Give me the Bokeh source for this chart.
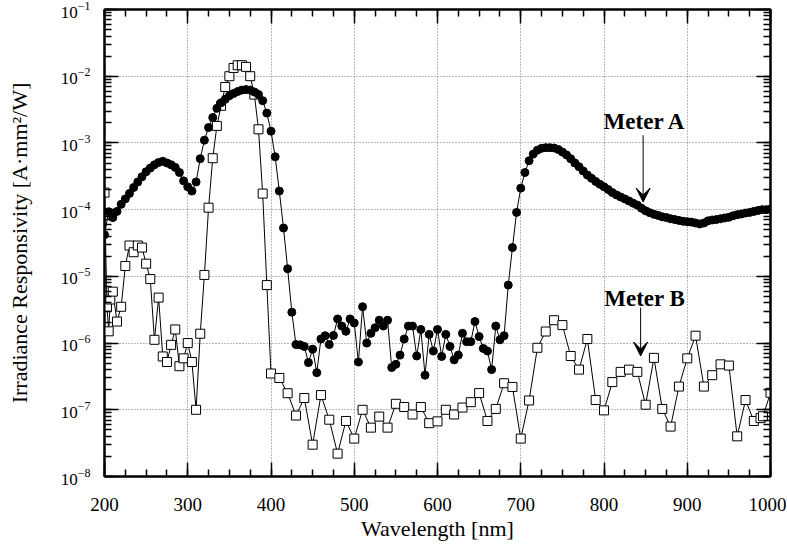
from bokeh.plotting import figure
from bokeh.models import (LogAxis, LinearAxis, Label, Arrow, VeeHead, Range1d,
                          FixedTicker, LogTicker, SingleIntervalTicker, CustomJSTickFormatter)
from bokeh.embed import file_html
from bokeh.resources import INLINE

# ---- data ----
wl_a = list(range(200, 1001, 5))
resp_a = [
    4.2e-5, 9.3e-5, 7.6e-5, 9.4e-5, 1.2e-4, 1.45e-4, 1.75e-4, 2.15e-4, 2.6e-4, 3.1e-4,
    3.7e-4, 4.2e-4, 4.7e-4, 5.1e-4, 5.3e-4, 5.0e-4, 4.7e-4, 4.3e-4, 3.6e-4, 2.7e-4,
    2.2e-4, 1.9e-4, 2.6e-4, 5.8e-4, 1.1e-3, 1.7e-3, 2.4e-3, 3.3e-3, 4.0e-3, 4.5e-3,
    5.1e-3, 5.5e-3, 5.9e-3, 6.2e-3, 6.3e-3, 6.2e-3, 5.8e-3, 5.3e-3, 4.3e-3, 2.8e-3,
    1.5e-3, 6.2e-4, 1.9e-4, 5.3e-5, 1.3e-5, 2.9e-6, 9.5e-7, 9.4e-7, 8.9e-7, 5.1e-7,
    8.1e-7, 3.6e-7, 1.15e-6, 1.29e-6, 9.5e-7, 1.3e-6, 2.3e-6, 1.8e-6, 1.5e-6, 2.3e-6,
    2.0e-6, 5.2e-7, 3.5e-6, 1.0e-6, 1.4e-6, 1.7e-6, 2.2e-6, 1.8e-6, 2.2e-6, 4.3e-7,
    4.8e-7, 6.6e-7, 1.15e-6, 1.8e-6, 1.8e-6, 6.4e-7, 1.6e-6, 3.3e-7, 1.35e-6, 7.6e-7,
    1.6e-6, 6.3e-7, 1.35e-6, 8.9e-7, 5.6e-7, 6.6e-7, 1.4e-6, 1.05e-6, 1.05e-6, 2.1e-6,
    1.25e-6, 8.3e-7, 7.6e-7, 4.0e-7, 1.8e-6, 1.12e-6, 1.29e-6, 7.4e-6, 2.7e-5, 9.1e-5,
    2.1e-4, 3.6e-4, 5.4e-4, 6.8e-4, 7.8e-4, 8.3e-4, 8.5e-4, 8.5e-4, 8.4e-4, 8.0e-4,
    7.3e-4, 6.6e-4, 5.8e-4, 5.0e-4, 4.4e-4, 3.8e-4, 3.3e-4, 2.95e-4, 2.65e-4, 2.4e-4,
    2.2e-4, 2.0e-4, 1.8e-4, 1.66e-4, 1.55e-4, 1.45e-4, 1.35e-4, 1.25e-4, 1.17e-4, 1.05e-4,
    9.6e-5, 9.0e-5, 8.5e-5, 8.2e-5, 7.8e-5, 7.6e-5, 7.3e-5, 7.1e-5, 6.9e-5, 6.7e-5,
    6.6e-5, 6.5e-5, 6.3e-5, 6.1e-5, 6.3e-5, 6.8e-5, 7.0e-5, 7.1e-5, 7.3e-5, 7.5e-5,
    7.7e-5, 8.1e-5, 8.4e-5, 8.6e-5, 8.9e-5, 9.1e-5, 9.4e-5, 9.7e-5, 1.0e-4, 1.0e-4,
    1.02e-4,
]

wl_b = [200, 203, 205, 207, 210, 215, 220, 225, 230, 235, 240, 245, 250, 255, 260,
        265, 270, 275, 280, 285, 290, 295, 300, 305, 310, 315, 320, 325, 330, 335,
        340, 345, 350, 355, 360, 365, 370, 375, 380, 385, 390, 395, 400,
        410, 420, 430, 440, 450, 460, 470, 480, 490, 500, 510, 520, 530, 540, 550,
        560, 570, 580, 590, 600, 610, 620, 630, 640, 650, 660, 670, 680, 690, 700,
        710, 720, 730, 740, 750, 760, 770, 780, 790, 800, 810, 820, 830, 840, 850,
        860, 870, 880, 890, 900, 910, 920, 930, 940, 950, 960, 970, 980, 988, 991, 1000]
resp_b = [1.8e-4, 3.5e-6, 1.5e-6, 4.5e-6, 5.9e-6, 2.1e-6, 3.5e-6, 1.43e-5, 2.9e-5, 2.3e-5,
          2.9e-5, 2.7e-5, 1.55e-5, 9.1e-6, 1.12e-6, 4.8e-6, 6.3e-7, 5.2e-7, 9.4e-7, 1.6e-6,
          4.5e-7, 5.9e-7, 1.0e-6, 5.2e-7, 1.0e-7, 1.38e-6, 1.05e-5, 1.07e-4, 5.9e-4, 1.8e-3,
          3.6e-3, 6.9e-3, 1.0e-2, 1.33e-2, 1.46e-2, 1.46e-2, 1.38e-2, 1.0e-2, 5.3e-3, 1.6e-3,
          1.74e-4, 7.4e-6, 3.5e-7,
          3.0e-7, 1.77e-7, 8.2e-8, 1.5e-7, 3.0e-8, 1.66e-7, 7.1e-8, 2.2e-8, 6.8e-8, 3.7e-8,
          1.0e-7, 5.4e-8, 7.9e-8, 5.4e-8, 1.23e-7, 1.1e-7, 8.5e-8, 1.1e-7, 6.3e-8, 6.7e-8,
          1.0e-7, 8.5e-8, 1.08e-7, 1.3e-7, 1.78e-7, 6.8e-8, 1.03e-7, 2.5e-7, 2.2e-7, 3.7e-8,
          1.38e-7, 8.5e-7, 1.49e-6, 2.2e-6, 1.86e-6, 6.4e-7, 4.0e-7, 1.15e-6, 1.4e-7, 9.8e-8,
          2.6e-7, 3.7e-7, 4.0e-7, 3.7e-7, 1.19e-7, 6.0e-7, 1.03e-7, 5.6e-8, 2.23e-7, 5.9e-7,
          1.29e-6, 2.23e-7, 3.3e-7, 4.8e-7, 4.6e-7, 4.0e-8, 1.4e-7, 6.8e-8, 7.5e-8, 8.0e-8,
          1.8e-7]

x_major = [200, 300, 400, 500, 600, 700, 800, 900, 1000]
annot_a = ("Meter A", 849, 2.1e-3)
annot_b = ("Meter B", 849, 4.7e-6)

SERIF = "Liberation Serif"

p = figure(frame_width=666, frame_height=467, y_axis_type="log",
           x_range=Range1d(200, 1000), y_range=Range1d(1e-8, 1e-1),
           output_backend="svg", toolbar_location=None,
           min_border_left=104, min_border_right=16, min_border_top=9,
           min_border_bottom=62, background_fill_color="white",
           border_fill_color="white")

p.outline_line_color = "black"
p.outline_line_width = 2

blank = CustomJSTickFormatter(code="return '';")

# main axes
xa = p.xaxis[0]
ya = p.yaxis[0]
xa.ticker = SingleIntervalTicker(interval=100, num_minor_ticks=4)
ya.ticker = LogTicker(num_minor_ticks=10)
for ax in (xa, ya):
    ax.axis_line_color = "black"
    ax.axis_line_width = 2
    ax.major_tick_in = 14
    ax.major_tick_out = 0
    ax.minor_tick_in = 7
    ax.minor_tick_out = 0
    ax.major_tick_line_width = 1.5
    ax.minor_tick_line_width = 1.5
    ax.major_label_text_font = SERIF
    ax.major_label_text_color = "black"
    ax.axis_label_text_font = SERIF
    ax.axis_label_text_font_style = "normal"
    ax.axis_label_text_color = "black"
xa.major_label_text_font_size = "19px"
ya.major_label_text_font_size = "17px"
xa.axis_label_text_font_size = "22px"
ya.axis_label_text_font_size = "22px"
xa.axis_label = "Wavelength [nm]"
ya.axis_label = "Irradiance Responsivity [A\u00b7mm\u00b2/W]"
xa.major_label_standoff = 21
xa.axis_label_standoff = 2
ya.major_label_standoff = 14
ya.axis_label_standoff = 26

# mirrored axes
top = LinearAxis(ticker=SingleIntervalTicker(interval=100, num_minor_ticks=4),
                 formatter=blank, axis_line_width=2, major_label_standoff=0,
                 major_tick_in=14, major_tick_out=0, minor_tick_in=7, minor_tick_out=0,
                 major_tick_line_width=1.5, minor_tick_line_width=1.5)
right = LogAxis(ticker=LogTicker(num_minor_ticks=10),
                formatter=blank, axis_line_width=2, major_label_standoff=0,
                major_tick_in=14, major_tick_out=0, minor_tick_in=7, minor_tick_out=0,
                major_tick_line_width=1.5, minor_tick_line_width=1.5)
p.add_layout(top, "above")
p.add_layout(right, "right")

# grid
p.xgrid.ticker = FixedTicker(ticks=x_major)
for g in (p.xgrid[0], p.ygrid[0]):
    g.grid_line_color = "#777777"
    g.grid_line_dash = "1 2"
    g.grid_line_width = 1
p.ygrid.minor_grid_line_color = None

# series
p.line(wl_b, resp_b, line_color="black", line_width=1)
p.scatter(wl_b, resp_b, marker="square", size=9, fill_color="white",
          line_color="black", line_width=1)
p.line(wl_a, resp_a, line_color="black", line_width=1)
p.scatter(wl_a, resp_a, marker="circle", size=8, fill_color="black", line_color="black")

# annotations
for txt, xx, yy in (annot_a, annot_b):
    p.add_layout(Label(x=xx, y=yy, text=txt, text_font=SERIF, text_font_style="bold",
                       text_font_size="23px", text_align="center", text_baseline="middle",
                       text_color="black"))
p.add_layout(Arrow(x_start=847, y_start=1.3e-3, x_end=847, y_end=1.3e-4,
                   line_width=1, line_color="black",
                   end=VeeHead(size=14, fill_color="black", line_color="black")))
p.add_layout(Arrow(x_start=844, y_start=3.4e-6, x_end=844, y_end=6.4e-7,
                   line_width=1, line_color="black",
                   end=VeeHead(size=14, fill_color="black", line_color="black")))

open("out.html", "w").write(file_html(p, INLINE))
